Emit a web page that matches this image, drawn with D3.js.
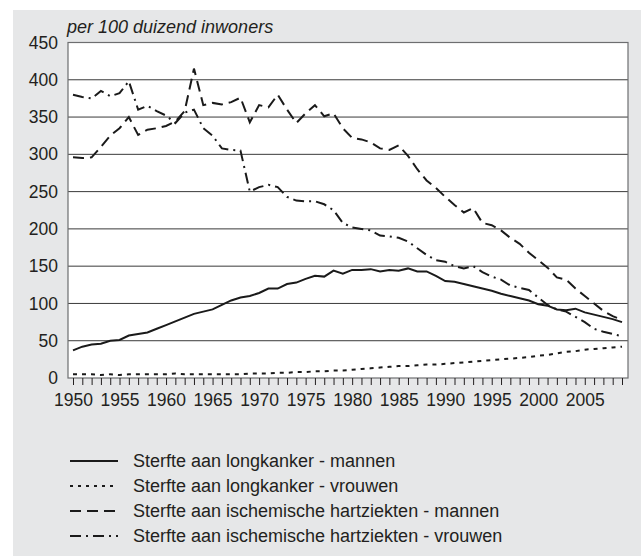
<!DOCTYPE html>
<html>
<head>
<meta charset="utf-8">
<script src="https://cdn.jsdelivr.net/npm/d3@7"></script>
<style>
  body { margin: 0; background: #fff; }
  svg text { font-family: "Liberation Sans", Arial, Helvetica, sans-serif; fill: #231f20; }
</style>
</head>
<body>
<div class="chart"></div>
<script>
// years on the x axis (one tick per year, label every 5)
var years = [1950,1951,1952,1953,1954,1955,1956,1957,1958,1959,
             1960,1961,1962,1963,1964,1965,1966,1967,1968,1969,
             1970,1971,1972,1973,1974,1975,1976,1977,1978,1979,
             1980,1981,1982,1983,1984,1985,1986,1987,1988,1989,
             1990,1991,1992,1993,1994,1995,1996,1997,1998,1999,
             2000,2001,2002,2003,2004,2005,2006,2007,2008,2009];
var yearLabels = [1950,1955,1960,1965,1970,1975,1980,1985,1990,1995,2000,2005];
var yTicks = [0,50,100,150,200,250,300,350,400,450];

// sterfte per 100 duizend inwoners
var longkankerMannen = [37,42,45,46,50,51,57,59,61,66,
                        71,76,81,86,89,92,98,104,108,110,
                        114,120,120,126,128,133,137,136,144,140,
                        145,145,146,143,145,144,147,143,143,137,
                        130,129,126,123,120,117,113,110,107,104,
                        99,97,92,91,93,88,85,82,79,75];
var longkankerVrouwen = [5,5,5,4,5,4,5,5,5,5,
                         5,6,5,5,5,5,5,5,5,6,
                         6,6,7,7,8,8,9,9,10,10,
                         11,12,13,14,15,16,16,17,18,18,
                         19,20,21,22,23,24,25,26,27,28,
                         30,31,33,35,36,38,39,40,41,42];
var hartMannen = [296,295,296,310,325,335,350,326,333,335,
                  338,344,358,415,366,369,367,370,376,343,
                  366,363,380,360,342,355,366,351,355,335,
                  322,320,316,308,306,312,298,280,265,255,
                  243,232,222,228,208,205,198,188,180,168,
                  158,148,135,132,120,110,100,90,83,78];
var hartVrouwen = [380,377,375,385,378,382,398,360,365,358,
                   352,342,356,360,335,325,308,306,305,250,
                   256,259,256,243,238,237,237,233,225,208,
                   202,200,198,191,190,188,183,174,165,158,
                   156,150,147,150,142,136,132,124,121,118,
                   108,98,92,89,82,75,66,62,59,56];

var seriesNames = ["Sterfte aan longkanker - mannen",
                   "Sterfte aan longkanker - vrouwen",
                   "Sterfte aan ischemische hartziekten - mannen",
                   "Sterfte aan ischemische hartziekten - vrouwen"];
var seriesValues = [longkankerMannen, longkankerVrouwen, hartMannen, hartVrouwen];
var seriesDash = [null, "4,5", "11,6", "11,5,2,5"];
var legendDash = [null, "3,5", "11,6", "11,5,2,5"];

var svg = d3.select(".chart").append("svg").attr("width", 641).attr("height", 557),
    plot = {left: 68, right: 628, top: 42.5, bottom: 378},
    x = d3.scaleLinear().domain([1950, 2009]).range([73, 622]),
    y = d3.scaleLinear().domain([0, 450]).range([plot.bottom, plot.top]);

// grey panel
svg.append("rect")
    .attr("x", 13).attr("y", 10)
    .attr("width", 628).attr("height", 546)
    .attr("fill", "#e6e7e8");

// subtitle
svg.append("text")
    .attr("x", 67).attr("y", 33)
    .style("font-size", "18px")
    .style("font-style", "italic")
    .text("per 100 duizend inwoners");

// plot area
svg.append("rect")
    .attr("x", plot.left).attr("y", plot.top)
    .attr("width", plot.right - plot.left).attr("height", plot.bottom - plot.top)
    .attr("fill", "#fff");

// gridlines
svg.append("g").selectAll("line")
    .data(yTicks.filter(d => d > 0 && d < 450))
    .enter().append("line")
      .attr("x1", plot.left).attr("x2", plot.right)
      .attr("y1", d => y(d)).attr("y2", d => y(d))
      .attr("stroke", "#3a3a3a").attr("stroke-width", 1);

svg.append("rect")
    .attr("x", plot.left).attr("y", plot.top)
    .attr("width", plot.right - plot.left).attr("height", plot.bottom - plot.top)
    .attr("fill", "none")
    .attr("stroke", "#6d6e70").attr("stroke-width", 1.2);

// y axis
var yAxis = svg.append("g")
    .attr("transform", `translate(${plot.left},0)`)
    .call(d3.axisLeft(y).tickValues(yTicks).tickSize(0).tickPadding(10));
yAxis.select(".domain").remove();
yAxis.selectAll("text").style("font-size", "17.5px").attr("fill", "#231f20");

// x axis, tick every year
var xAxis = svg.append("g")
    .attr("transform", `translate(0,${plot.bottom})`)
    .call(d3.axisBottom(x).tickValues(years).tickSize(7)
          .tickFormat(d => yearLabels.indexOf(d) >= 0 ? d : ""));
xAxis.select(".domain").remove();
xAxis.selectAll("line").attr("stroke", "#231f20");
xAxis.selectAll("text")
    .attr("y", 14).attr("dy", "0.82em")
    .style("font-size", "17.5px").attr("fill", "#231f20");

// lines
var line = d3.line()
    .x((d, i) => x(years[i]))
    .y(d => y(d));

svg.append("g").selectAll("path")
    .data(seriesValues)
    .enter().append("path")
      .attr("d", d => line(d))
      .attr("fill", "none")
      .attr("stroke", "#1a1a1a")
      .attr("stroke-width", 2)
      .attr("stroke-dasharray", (d, i) => seriesDash[i]);

// legend
var legend = svg.append("g").selectAll("g")
    .data(seriesNames)
    .enter().append("g")
      .attr("transform", (d, i) => `translate(70,${461 + i * 25})`);

legend.append("line")
    .attr("x1", 0).attr("x2", 48)
    .attr("stroke", "#1a1a1a").attr("stroke-width", 2)
    .attr("stroke-dasharray", (d, i) => legendDash[i]);

legend.append("text")
    .attr("x", 63).attr("dy", "0.35em")
    .style("font-size", "18px")
    .text(d => d);
</script>
</body>
</html>
